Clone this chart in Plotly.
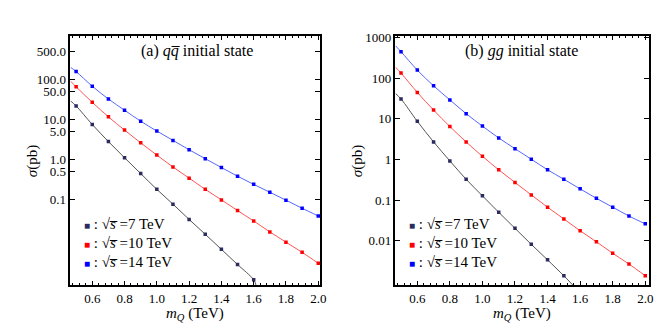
import plotly.graph_objects as go

# masses (TeV)
mass = [0.5, 0.6, 0.7, 0.8, 0.9, 1.0, 1.1, 1.2, 1.3, 1.4, 1.5, 1.6, 1.7, 1.8, 1.9, 2.0]

# (a) q qbar initial state, sigma in pb
qq_7 = [22.1, 7.6, 2.84, 1.12, 0.45, 0.181, 0.077, 0.032, 0.0136, 0.0057, 0.00238, 0.00099]
qq_10 = [66.7, 27.3, 11.8, 5.5, 2.64, 1.30, 0.656, 0.345, 0.181, 0.0986, 0.0535, 0.0292,
         0.0156, 0.00863, 0.0048, 0.00256]
qq_14 = [160, 69, 33, 17.3, 9.2, 5.2, 3.04, 1.77, 1.06, 0.635, 0.386, 0.241,
         0.153, 0.097, 0.061, 0.039]

# (b) gg initial state, sigma in pb
gg_7 = [31, 8.75, 2.72, 0.927, 0.327, 0.128, 0.0504, 0.0203, 0.0082, 0.0034, 0.00138]
gg_10 = [134.5, 45, 16.5, 6.5, 2.72, 1.2, 0.56, 0.273, 0.135, 0.0673, 0.0345, 0.0177,
         0.00946, 0.00495, 0.00268, 0.00139]
gg_14 = [451, 159, 65.3, 29.4, 13.5, 6.65, 3.41, 1.85, 1.02, 0.56, 0.327, 0.19,
         0.111, 0.0673, 0.0407, 0.0262]

# fitted curve values read at the left frame edge and at the bottom exit
edge_mass = 0.466
qq_edge = [29.4, 92, 204]
gg_edge = [42.4, 188, 630]
qq_tail = (1.615, 0.00071)
gg_tail = (1.557, 0.0008)

energies = ["7", "10", "14"]
mark_col = ["#2b2b5e", "#ff0000", "#0000ff"]
line_col = ["#555555", "#ff5555", "#5566ff"]

qq_ticks = [0.1, 0.5, 1, 5, 10, 50, 100, 500]
qq_text = ["0.1", "0.5", "1.0", "5.0", "10.0", "50.0", "100.0", "500.0"]
gg_ticks = [0.01, 0.1, 1, 10, 100, 1000]
gg_text = ["0.01", "0.1", "1", "10", "100", "1000"]
x_ticks = [0.6, 0.8, 1.0, 1.2, 1.4, 1.6, 1.8, 2.0]

FONT = "Times New Roman"
fig = go.Figure()


def add_panel(series, edges, tail, xa, ya):
    for i, ys in enumerate(series):
        xs = mass[:len(ys)]
        cx = [edge_mass] + xs
        cy = [edges[i]] + ys
        if i == 0:
            cx = cx + [tail[0]]
            cy = cy + [tail[1]]
        fig.add_trace(go.Scatter(x=cx, y=cy, mode="lines", xaxis=xa, yaxis=ya,
                                 line=dict(color=line_col[i], width=1, shape="spline"),
                                 showlegend=False, hoverinfo="skip"))
        fig.add_trace(go.Scatter(x=xs, y=ys, mode="markers", xaxis=xa, yaxis=ya,
                                 marker=dict(symbol="square", size=3.5, color=mark_col[i]),
                                 name=energies[i] + " TeV", showlegend=False))


add_panel([qq_7, qq_10, qq_14], qq_edge, qq_tail, "x", "y")
add_panel([gg_7, gg_10, gg_14], gg_edge, gg_tail, "x2", "y2")

axis_common = dict(showline=True, linecolor="black", linewidth=1.5, mirror="ticks",
                   ticks="inside", ticklen=5, tickcolor="black", showgrid=False,
                   zeroline=False, tickfont=dict(family=FONT, size=13, color="black"))
xminor = dict(ticks="inside", ticklen=2.5, tick0=0.6, dtick=0.04, tickcolor="black", showgrid=False)

fig.update_layout(
    width=667, height=334,
    margin=dict(l=0, r=0, t=0, b=0),
    plot_bgcolor="white", paper_bgcolor="white",
    font=dict(family=FONT, size=13, color="black"),
    xaxis=dict(domain=[0.0945, 0.4723], range=[0.465, 2.012], tickvals=x_ticks,
               ticktext=["%.1f" % v for v in x_ticks], minor=xminor, **axis_common),
    yaxis=dict(domain=[0.172, 0.931], type="log", range=[-3.146, 3.102],
               tickvals=qq_ticks, ticktext=qq_text, **axis_common),
    xaxis2=dict(domain=[0.5862, 0.970], range=[0.466, 2.024], tickvals=x_ticks,
                ticktext=["%.1f" % v for v in x_ticks], minor=xminor, anchor="y2", **axis_common),
    yaxis2=dict(domain=[0.172, 0.931], type="log", range=[-3.097, 3.048],
                tickvals=gg_ticks, ticktext=gg_text, anchor="x2", **axis_common),
)

ann = []
panels = [("x", "y", 0.0945, 0.4723, "(a) <i>q</i><i>q\u0305</i> initial state"),
          ("x2", "y2", 0.5862, 0.970, "(b) <i>gg</i> initial state")]
for xa, ya, x0, x1, title in panels:
    ann.append(dict(text=title, xref="paper", yref="paper", x=x0 + 0.191, y=0.883,
                    xanchor="center", yanchor="middle", showarrow=False,
                    font=dict(family=FONT, size=16)))
    ann.append(dict(text="<i>m</i><sub><i>Q</i></sub> (TeV)", xref="paper", yref="paper",
                    x=(x0 + x1) / 2, y=0.085, xanchor="center", yanchor="middle",
                    showarrow=False, font=dict(family=FONT, size=15)))
    ann.append(dict(text="<i>\u03c3</i>(pb)", xref="paper", yref="paper", x=x0 - 0.058, y=0.55,
                    textangle=-90, xanchor="center", yanchor="middle",
                    showarrow=False, font=dict(family=FONT, size=15)))
    for i, e in enumerate(energies):
        ann.append(dict(text="<span style='color:%s;font-size:10px'>\u25a0</span> : \u221a<i>s\u0305</i> =%s TeV"
                             % (mark_col[i], e),
                        xref="paper", yref="paper", x=x0 + 0.017, y=0.358 - i * 0.057,
                        xanchor="left", yanchor="middle", showarrow=False,
                        font=dict(family=FONT, size=15)))
fig.update_layout(annotations=ann)

fig.write_html("out.html")
